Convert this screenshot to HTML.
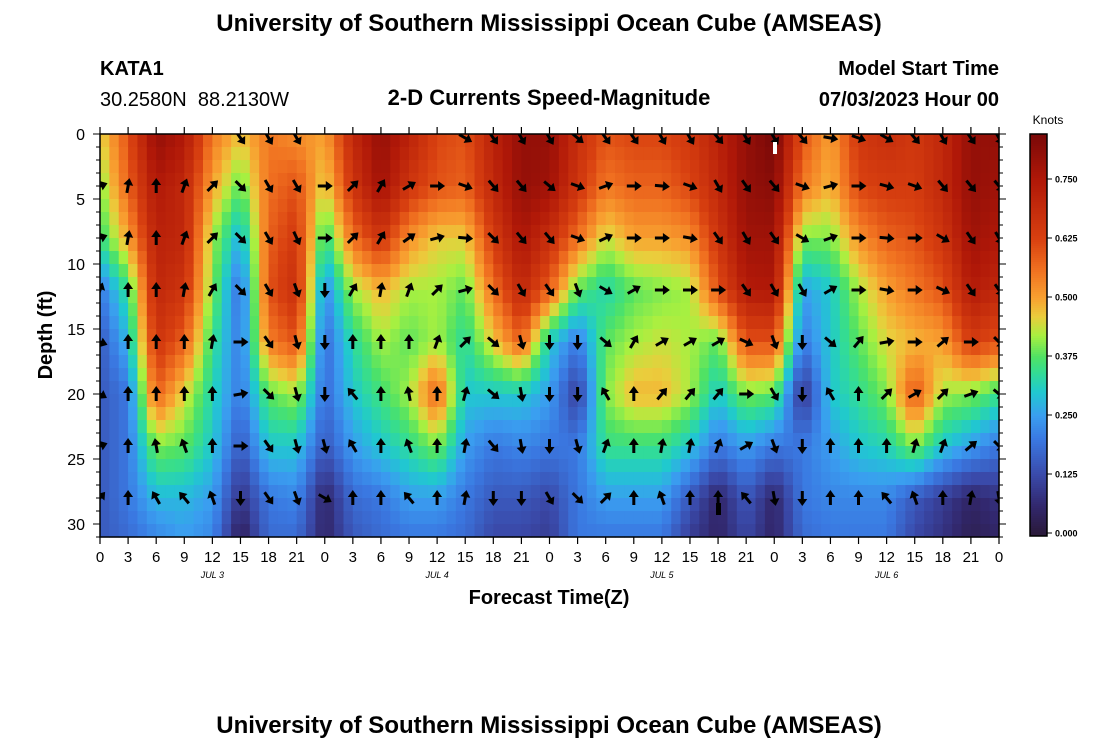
<!DOCTYPE html>
<html><head><meta charset="utf-8">
<style>
body{margin:0;background:#fff;}
svg text{font-family:"Liberation Sans",sans-serif;}
</style></head>
<body>
<svg id="chart" width="1100" height="750" viewBox="0 0 1100 750" xmlns="http://www.w3.org/2000/svg">
<rect width="1100" height="750" fill="#fff"/>
<text x="549" y="31" font-size="24" font-weight="bold" text-anchor="middle">University of Southern Mississippi Ocean Cube (AMSEAS)</text>
<text x="100" y="75" font-size="20" font-weight="bold">KATA1</text>
<text x="100" y="106" font-size="20" xml:space="preserve">30.2580N  88.2130W</text>
<text x="549" y="105" font-size="22" font-weight="bold" text-anchor="middle">2-D Currents Speed-Magnitude</text>
<text x="999" y="75" font-size="20" font-weight="bold" text-anchor="end">Model Start Time</text>
<text x="999" y="106" font-size="20" font-weight="bold" text-anchor="end">07/03/2023 Hour 00</text>
<g id="heat"></g>
<g id="arrows"></g>
<rect x="773" y="142" width="4" height="12" fill="#fff"/>
<rect x="716" y="503" width="5" height="12" fill="#000"/>
<rect x="100" y="134" width="899" height="403" fill="none" stroke="#000" stroke-width="1.5"/>
<g id="axes"></g>
<text transform="translate(52,335) rotate(-90)" font-size="20" font-weight="bold" text-anchor="middle">Depth (ft)</text>
<text x="549" y="604" font-size="20" font-weight="bold" text-anchor="middle">Forecast Time(Z)</text>
<g id="cbar"></g>
<text x="1048" y="124" font-size="12" text-anchor="middle">Knots</text>
<text x="549" y="733" font-size="24" font-weight="bold" text-anchor="middle">University of Southern Mississippi Ocean Cube (AMSEAS)</text>
</svg>
<script>
const hours=[0,3,6,9,12,15,18,21,24,27,30,33,36,39,42,45,48,51,54,57,60,63,66,69,72,75,78,81,84,87,90,93,96];
const depths=[0,4,8,12,16,20,24,28,31];
const spd0=[.45,.6,.8,.75,.55,.47,.55,.52,.5,.7,.8,.72,.62,.6,.72,.8,.8,.68,.6,.62,.62,.65,.72,.8,.85,.6,.5,.65,.68,.65,.7,.8,.8];
const spd4=[.4,.58,.75,.7,.5,.38,.56,.6,.45,.66,.78,.66,.6,.58,.7,.8,.78,.66,.55,.58,.58,.62,.7,.8,.82,.55,.48,.62,.64,.64,.7,.8,.78];
const spd8=[.35,.5,.72,.7,.42,.27,.58,.65,.34,.56,.66,.52,.46,.46,.64,.76,.68,.56,.44,.5,.5,.52,.66,.78,.78,.4,.4,.52,.58,.6,.66,.78,.75];
const spd12=[.2,.35,.7,.66,.4,.18,.6,.68,.22,.42,.48,.42,.42,.38,.56,.7,.58,.38,.32,.38,.4,.42,.6,.74,.75,.25,.3,.42,.5,.55,.6,.74,.7];
const spd16=[.15,.28,.66,.58,.35,.2,.54,.6,.18,.33,.42,.38,.42,.33,.46,.58,.3,.2,.38,.42,.44,.42,.38,.6,.6,.2,.3,.38,.45,.48,.5,.64,.6];
const spd20=[.15,.2,.58,.45,.32,.2,.38,.42,.18,.3,.36,.42,.58,.3,.3,.3,.25,.1,.4,.48,.48,.42,.3,.4,.38,.08,.3,.34,.4,.6,.42,.4,.35];
const spd24=[.15,.2,.4,.38,.3,.15,.3,.3,.15,.25,.3,.34,.4,.25,.2,.22,.2,.2,.35,.35,.35,.3,.2,.25,.2,.2,.25,.3,.32,.4,.3,.25,.2];
const spd28=[.15,.2,.28,.28,.25,.08,.2,.22,.05,.18,.2,.25,.25,.2,.15,.15,.12,.2,.25,.25,.25,.15,.05,.15,.05,.2,.22,.22,.22,.15,.1,.05,.08];
const spd31=[.15,.18,.22,.25,.22,.03,.18,.18,.05,.15,.18,.2,.2,.18,.12,.12,.1,.2,.2,.2,.2,.1,.05,.12,.05,.18,.2,.2,.2,.12,.08,.03,.05];
const speedRows=[spd0,spd4,spd8,spd12,spd16,spd20,spd24,spd28,spd31];
const arrowDepths=[0,4,8,12,16,20,24,28];
const dir0=[null,null,null,null,null,145,150,150,null,null,null,null,null,120,145,150,150,130,145,145,150,150,140,150,150,140,100,110,120,140,150,145,150];
const dir4=[70,10,0,20,45,135,150,150,90,45,30,60,90,110,140,140,130,110,70,90,95,110,150,145,140,110,75,90,105,110,140,140,140];
const dir8=[70,10,0,20,45,135,150,155,90,45,30,55,75,95,135,140,140,110,65,90,90,100,145,150,145,120,70,90,95,90,120,145,150];
const dir12=[20,0,0,10,30,135,150,160,180,30,10,20,45,75,135,150,145,160,120,60,90,90,90,145,150,150,60,90,100,90,115,145,145];
const dir16=[110,0,0,0,10,90,145,165,180,0,0,0,20,45,130,165,180,180,130,30,60,60,60,115,160,180,130,40,80,90,50,90,135];
const dir20=[120,0,0,0,0,80,135,165,180,-40,0,-10,0,15,130,170,180,180,-30,0,40,40,40,90,150,180,-30,0,45,60,45,70,130];
const dir24=[70,0,-10,-20,0,90,145,165,165,-30,0,-20,0,10,140,170,180,165,20,0,10,10,20,60,160,180,0,0,0,15,20,50,135];
const dir28=[40,0,-30,-40,-20,180,145,160,120,0,0,-40,0,10,180,180,150,135,45,0,-20,0,0,-40,170,180,0,0,-40,-20,0,10,170];
const dirRows=[dir0,dir4,dir8,dir12,dir16,dir20,dir24,dir28];
const cbTicks=[0,0.125,0.25,0.375,0.5,0.625,0.75];
const cbLabels=["0.000","0.125","0.250","0.375","0.500","0.625","0.750"];
const xTickLabels=["0","3","6","9","12","15","18","21"];
const dayLabels=["JUL 3","JUL 4","JUL 5","JUL 6"];
const yTicks=[0,5,10,15,20,25,30];

const NS="http://www.w3.org/2000/svg";
const X0=100,X1=999,Y0=134,Y1=537;
const xs=h=>X0+(h/96)*(X1-X0);
const ys=d=>Y0+(d/31)*(Y1-Y0);
const stops=[[0,[42,26,58]],[0.06,[50,40,110]],[0.125,[58,74,170]],[0.2,[58,120,225]],[0.25,[58,158,240]],[0.3,[32,200,208]],[0.34,[50,220,150]],[0.375,[80,226,100]],[0.42,[168,240,64]],[0.46,[235,205,60]],[0.5,[248,160,48]],[0.56,[240,112,32]],[0.625,[216,64,16]],[0.75,[176,24,8]],[0.85,[120,8,8]]];
function col(v){if(v<=0)return `rgb(${stops[0][1]})`;
 for(let i=0;i<stops.length-1;i++){const a=stops[i],b=stops[i+1];if(v<=b[0]){const f=(v-a[0])/(b[0]-a[0]);
  return 'rgb('+a[1].map((c,k)=>Math.round(c+(b[1][k]-c)*f)).join(',')+')';}}
 return `rgb(${stops[stops.length-1][1]})`;}
function mk(tag,attrs,parent){const e=document.createElementNS(NS,tag);for(const k in attrs)e.setAttribute(k,attrs[k]);parent.appendChild(e);return e;}
function idx(arr,v){for(let i=0;i<arr.length-1;i++)if(v<=arr[i+1])return i;return arr.length-2;}
function sample(h,d){const i=idx(hours,h),j=idx(depths,d);
 const fx=(h-hours[i])/(hours[i+1]-hours[i]),fy=(d-depths[j])/(depths[j+1]-depths[j]);
 const a=speedRows[j][i],b=speedRows[j][i+1],c=speedRows[j+1][i],e=speedRows[j+1][i+1];
 return (a*(1-fx)+b*fx)*(1-fy)+(c*(1-fx)+e*fx)*fy;}
const heat=document.getElementById('heat');
for(let h=0;h<96;h++)for(let d=0;d<31;d++){
 const r=mk('rect',{x:xs(h).toFixed(2),y:ys(d).toFixed(2),width:(xs(h+1)-xs(h)+0.6).toFixed(2),height:(ys(d+1)-ys(d)+0.6).toFixed(2),fill:col(sample(h+0.5,d+0.5))},heat);
 
 
}
const arrows=document.getElementById('arrows');
const cp=mk('clipPath',{id:'pc'},arrows);
mk('rect',{x:X0,y:Y0,width:X1-X0,height:Y1-Y0},cp);
const ag=mk('g',{'clip-path':'url(#pc)'},arrows);
arrowDepths.forEach((dp,j)=>{hours.forEach((h,i)=>{const a=dirRows[j][i];if(a===null)return;
 const cx=xs(h),cy=ys(dp)+(dp===0?4:0);
 const g=mk('g',{transform:`translate(${cx.toFixed(1)},${cy.toFixed(1)}) rotate(${a})`},ag);
 
 
 mk('line',{x1:0,y1:7,x2:0,y2:-3,stroke:'#000','stroke-width':3},g);
 mk('polygon',{points:'0,-8 -5,-1 5,-1',fill:'#000'},g);
});});
const axes=document.getElementById('axes');
for(let d=0;d<=31;d++){const y=ys(d),L=d%5===0?7:4;
 mk('line',{x1:X0-L,y1:y,x2:X0,y2:y,stroke:'#000','stroke-width':1},axes);
 mk('line',{x1:X1,y1:y,x2:X1+L,y2:y,stroke:'#000','stroke-width':1},axes);}
yTicks.forEach(v=>{const t=mk('text',{x:85,y:ys(v)+6,'font-size':16,'text-anchor':'end'},axes);t.textContent=v;
 
 });
for(let h=0;h<=96;h+=3){const x=xs(h);
 mk('line',{x1:x,y1:Y0-7,x2:x,y2:Y0,stroke:'#000','stroke-width':1.2},axes);
 mk('line',{x1:x,y1:Y1,x2:x,y2:Y1+7,stroke:'#000','stroke-width':1.2},axes);
 const t=mk('text',{x:x,y:562,'font-size':15,'text-anchor':'middle'},axes);t.textContent=xTickLabels[(h/3)%8];
 
 }
dayLabels.forEach((s,k)=>{const t=mk('text',{x:xs(12+24*k),y:578,'font-size':9,'font-style':'italic','text-anchor':'middle','font-family':'Liberation Mono, monospace'},axes);t.textContent=s;
 
 });
const cb=document.getElementById('cbar');const CX=1030,CW=17,CT=134,CB=536;
const cy=v=>533-(v/0.75)*(533-179);
for(let p=CT;p<CB;p+=2){const v=(533-p)/(533-179)*0.75;mk('rect',{x:CX,y:p,width:CW,height:2.5,fill:col(Math.max(0,v))},cb);}
mk('rect',{x:CX,y:CT,width:CW,height:CB-CT,fill:'none',stroke:'#000','stroke-width':1.5},cb);
cbTicks.forEach((v,k)=>{mk('line',{x1:CX+CW,y1:cy(v),x2:CX+CW+5,y2:cy(v),stroke:'#000'},cb);
 const t=mk('text',{x:CX+CW+8,y:cy(v)+3.5,'font-size':9,'font-weight':'bold'},cb);t.textContent=cbLabels[k];
 
 });
</script>
</body></html>
